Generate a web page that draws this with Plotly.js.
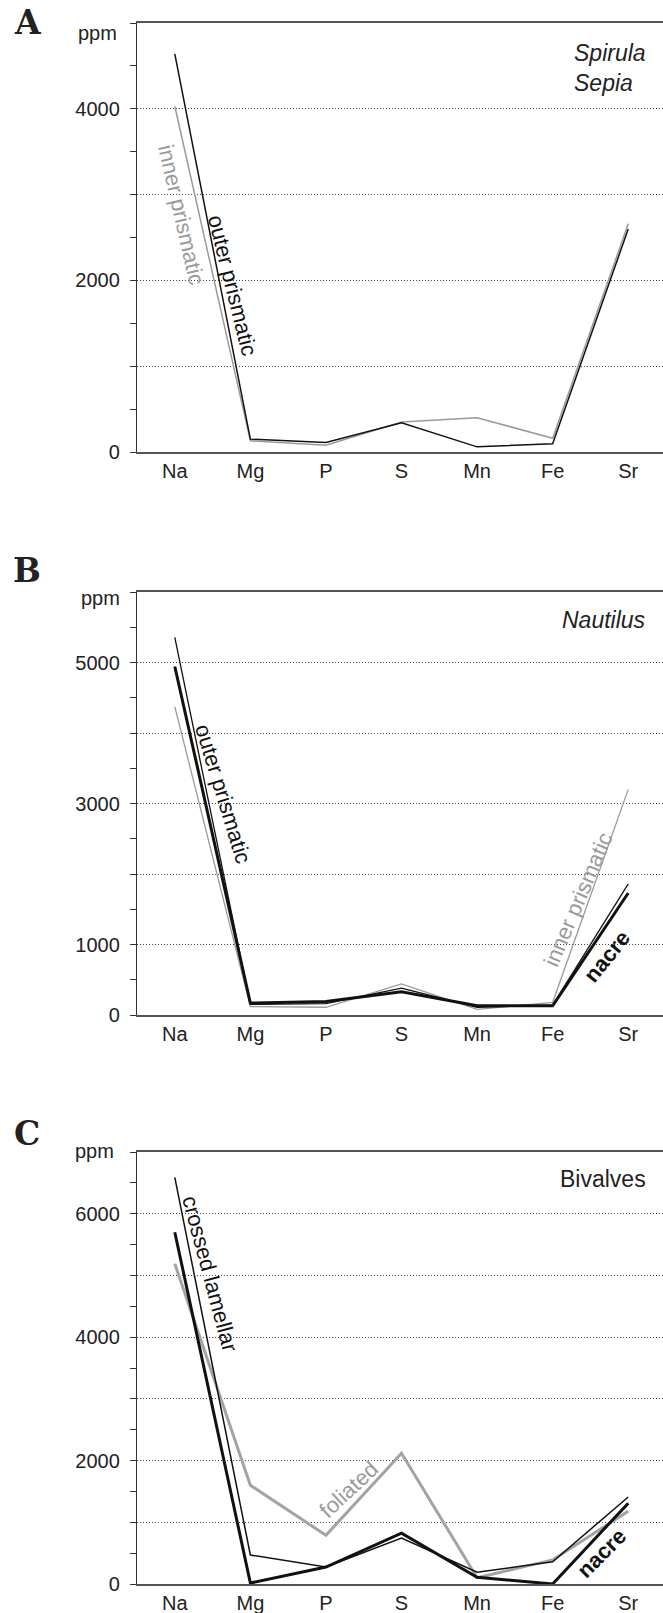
<!DOCTYPE html>
<html>
<head>
<meta charset="utf-8">
<script src="https://cdn.plot.ly/plotly-3.0.1.min.js"></script>
<style>html,body{margin:0;padding:0;background:#fff}#chart{width:663px;height:1613px}</style>
</head>
<body>
<div id="chart"></div>
<script>
// ---- data ----
const categories = ['Na', 'Mg', 'P', 'S', 'Mn', 'Fe', 'Sr'];

// Panel A: Spirula / Sepia
const A_outerPrismatic = [4640, 150, 110, 340, 60, 95, 2600];
const A_innerPrismatic = [4030, 130, 80, 350, 400, 160, 2660];

// Panel B: Nautilus
const B_outerPrismatic = [5355, 150, 160, 380, 110, 140, 1860];
const B_nacre = [4943, 170, 190, 330, 130, 130, 1730];
const B_innerPrismatic = [4375, 120, 110, 440, 80, 180, 3200];

// Panel C: Bivalves
const C_crossedLamellar = [6590, 470, 275, 745, 190, 360, 1410];
const C_nacre = [5700, 15, 275, 825, 110, 0, 1310];
const C_foliated = [5190, 1600, 790, 2120, 100, 390, 1180];

// tick labels
const A_ticks = [0, 1000, 2000, 3000, 4000];
const A_tickText = ['0', '', '2000', '', '4000'];
const B_ticks = [0, 1000, 2000, 3000, 4000, 5000];
const B_tickText = ['0', '1000', '', '3000', '', '5000'];
const C_ticks = [0, 1000, 2000, 3000, 4000, 5000, 6000];
const C_tickText = ['0', '', '2000', '', '4000', '', '6000'];

// ---- layout helpers ----
const W = 663, H = 1613;
const FONT = 'Liberation Sans, Arial, sans-serif';
const px2x = x => x / W;
const py2y = y => 1 - y / H;

function yAxis(top, bottom, range, vals, text) {
  return {
    domain: [py2y(bottom), py2y(top)],
    range: range,
    tickmode: 'array', tickvals: vals, ticktext: text,
    ticks: 'outside', ticklen: 6, tickwidth: 1, tickcolor: '#333',
    showline: true, linecolor: '#333', linewidth: 1.2,
    showgrid: true, gridcolor: '#444', gridwidth: 1, griddash: '1px,2px',
    zeroline: false,
    minor: {tickmode: 'linear', tick0: 0, dtick: 500, ticks: 'outside', ticklen: 6, tickwidth: 1, tickcolor: '#333', showgrid: false},
    tickfont: {family: FONT, size: 20, color: '#222'},
    ticklabelstandoff: 6,
    fixedrange: true
  };
}
function xAxis(anchor) {
  return {
    anchor: anchor,
    domain: [px2x(137), 1],
    type: 'category', categoryorder: 'array', categoryarray: categories,
    range: [-0.5, 6.46],
    showline: true, mirror: true, linecolor: '#555', linewidth: 2,
    ticks: '', showgrid: false, zeroline: false,
    tickfont: {family: FONT, size: 20, color: '#222'},
    ticklabelstandoff: 0,
    fixedrange: true
  };
}
function line(y, xa, ya, color, width, name) {
  return {x: categories, y: y, xaxis: xa, yaxis: ya, mode: 'lines', name: name,
          line: {color: color, width: width}, hoverinfo: 'skip', showlegend: false};
}

const GRAY = '#9a9a9a', BLACK = '#111';
const traces = [
  line(A_innerPrismatic, 'x', 'y', GRAY, 1.5, 'inner prismatic'),
  line(A_outerPrismatic, 'x', 'y', BLACK, 1.5, 'outer prismatic'),
  line(B_innerPrismatic, 'x2', 'y2', GRAY, 1.3, 'inner prismatic'),
  line(B_outerPrismatic, 'x2', 'y2', BLACK, 1.3, 'outer prismatic'),
  line(B_nacre, 'x2', 'y2', BLACK, 3, 'nacre'),
  line(C_foliated, 'x3', 'y3', '#a3a3a3', 3, 'foliated'),
  line(C_crossedLamellar, 'x3', 'y3', BLACK, 1.5, 'crossed lamellar'),
  line(C_nacre, 'x3', 'y3', BLACK, 3, 'nacre')
];

function lab(text, x, y, xr, yr, angle, color, bold) {
  return {text: bold ? '<b>' + text + '</b>' : text, x: x, y: y, xref: xr, yref: yr,
          textangle: angle, showarrow: false, xanchor: 'center', yanchor: 'middle',
          font: {family: FONT, size: 22, color: color}};
}
function paperText(text, xpx, ypx, size, family, anchor) {
  return {text: text, x: px2x(xpx), y: py2y(ypx), xref: 'paper', yref: 'paper',
          showarrow: false, xanchor: anchor || 'center', yanchor: 'middle',
          font: {family: family || FONT, size: size, color: '#222'}};
}
function species(text, x, y, xr, yr) {
  return {text: text, x: x, y: y, xref: xr, yref: yr, showarrow: false,
          xanchor: 'right', yanchor: 'middle', align: 'left',
          font: {family: FONT, size: 23, color: '#222'}};
}
const SERIF = 'DejaVu Serif, serif';

const annotations = [
  // panel letters
  paperText('<b>A</b>', 27, 23, 33, SERIF),
  paperText('<b>B</b>', 27, 571, 33, SERIF),
  paperText('<b>C</b>', 27, 1133, 33, SERIF),
  // ppm
  paperText('ppm', 97, 33, 20),
  paperText('ppm', 101, 598, 20),
  paperText('ppm', 94, 1151, 20),
  // species
  species('<i>Spirula</i><br><i>Sepia</i>', 6.26, 4480, 'x', 'y'),
  species('<i>Nautilus</i>', 6.26, 5597, 'x2', 'y2'),
  species('Bivalves', 6.26, 6570, 'x3', 'y3'),
  // line labels A
  lab('inner prismatic', 0.093, 2762, 'x', 'y', 77, GRAY, false),
  lab('outer prismatic', 0.768, 1946, 'x', 'y', 76, BLACK, false),
  // B
  lab('outer prismatic', 0.636, 3139, 'x2', 'y2', 73, BLACK, false),
  lab('inner prismatic', 5.34, 1634, 'x2', 'y2', -67, GRAY, false),
  lab('nacre', 5.72, 824, 'x2', 'y2', -51, BLACK, true),
  // C
  lab('crossed lamellar', 0.464, 5032, 'x3', 'y3', 75, BLACK, false),
  lab('foliated', 2.30, 1537, 'x3', 'y3', -43, GRAY, false),
  lab('nacre', 5.64, 502, 'x3', 'y3', -45, BLACK, true)
];

const layout = {
  width: W, height: H,
  margin: {l: 0, r: 0, t: 0, b: 0},
  paper_bgcolor: '#fff', plot_bgcolor: '#fff',
  showlegend: false,
  xaxis: xAxis('y'),
  yaxis: yAxis(23, 452, [0, 5000], A_ticks, A_tickText),
  xaxis2: xAxis('y2'),
  yaxis2: Object.assign(yAxis(592, 1015, [0, 6000], B_ticks, B_tickText), {anchor: 'x2'}),
  xaxis3: xAxis('y3'),
  yaxis3: Object.assign(yAxis(1152, 1584, [0, 7000], C_ticks, C_tickText), {anchor: 'x3'}),
  annotations: annotations
};
layout.yaxis.anchor = 'x';

Plotly.newPlot('chart', traces, layout, {staticPlot: true, displayModeBar: false});
</script>
</body>
</html>
